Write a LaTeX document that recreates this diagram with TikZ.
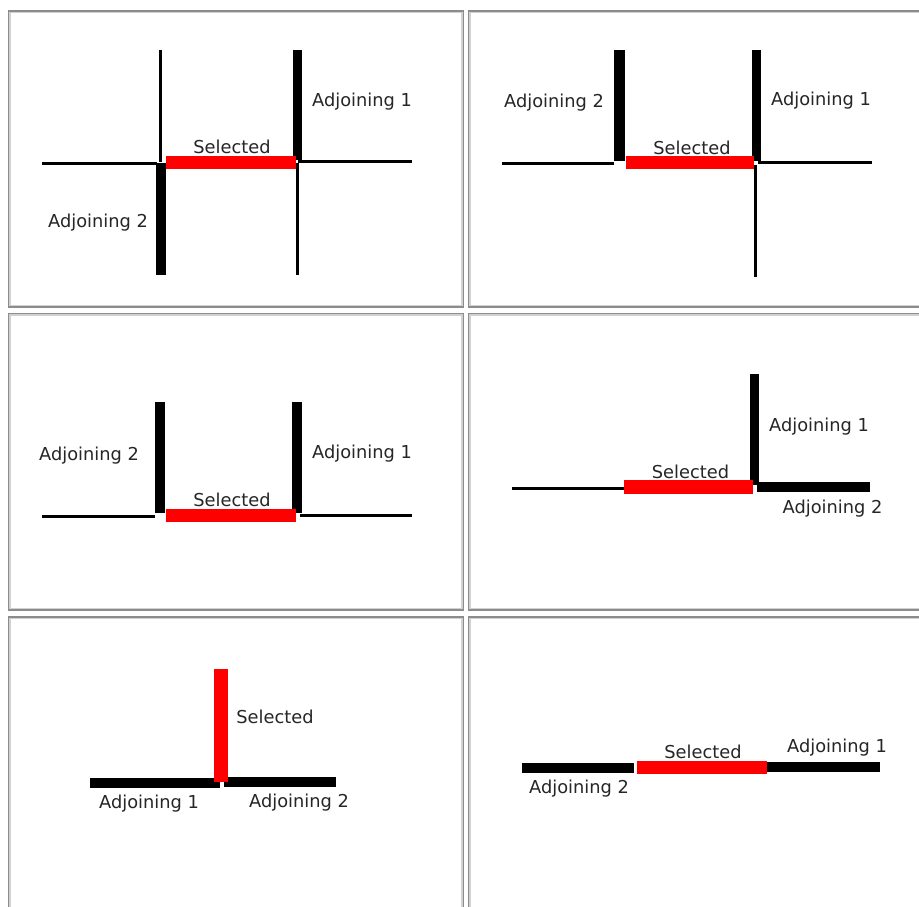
\documentclass[tikz,border=0pt]{standalone}
\usepackage{fontspec}
\setmainfont{DejaVu Sans}
\begin{document}
\begin{tikzpicture}[x=1pt,y=-1pt,
  lbl/.style={inner sep=0pt,anchor=center,text=black!85,font=\fontsize{17.8}{20}\selectfont},
  wallthin/.style={draw=black,line width=3pt},
  wallthick/.style={fill=black},
  selwall/.style={fill=red},
  frameout/.style={draw=black!45,line width=1.6pt},
  framein/.style={draw=black!18,line width=1.4pt}]
\useasboundingbox (0,0) rectangle (919,907);
\fill[white] (0,0) rectangle (919,907);
\clip (0,0) rectangle (919,907);

% cell frames (double grey rule)
\foreach \xa/\ya/\xb/\yb in {8.5/11/463.5/307, 468.5/11/930/307,
                             8.5/313.5/463.5/610, 468.5/313.5/930/610,
                             8.5/617/463.5/920, 468.5/617/930/920}{
  \draw[frameout] (\xa,\ya) rectangle (\xb,\yb);
  \draw[framein] (\xa+1.6,\ya+1.6) rectangle (\xb-1.6,\yb-1.6);
}

% ---- cell 1: crossing walls on both ends
\draw[wallthin] (42,163) -- (157,163);
\draw[wallthin] (160,50) -- (160,162);
\fill[wallthick] (156,163) rectangle (166,275);
\fill[wallthick] (293,50) rectangle (302,160);
\draw[wallthin] (298,161) -- (412,161);
\draw[wallthin] (297,163) -- (297,275);
\fill[selwall] (166,156) rectangle (296,169);
\node[lbl] (a1) at (362,102) {Adjoining 1};
\node[lbl] (s1) at (232,147) {Selected};
\node[lbl] (a2) at (98,223) {Adjoining 2};

% ---- cell 2: both adjoining walls above
\draw[wallthin] (502,163) -- (614,163);
\fill[wallthick] (614,50) rectangle (625,161);
\fill[wallthick] (752,50) rectangle (761,161);
\draw[wallthin] (758,162) -- (872,162);
\draw[wallthin] (755,165) -- (755,277);
\fill[selwall] (626,156) rectangle (754,169);
\node[lbl] (b2) at (554,103) {Adjoining 2};
\node[lbl] (b1) at (821,101) {Adjoining 1};
\node[lbl] (s2) at (692,147.5) {Selected};

% ---- cell 3: U-shaped arrangement
\draw[wallthin] (42,516) -- (155,516);
\fill[wallthick] (155,402) rectangle (165,513);
\fill[wallthick] (292,402) rectangle (302,513);
\draw[wallthin] (300,515) -- (412,515);
\fill[selwall] (166,509) rectangle (296,522);
\node[lbl] (c2) at (89,456) {Adjoining 2};
\node[lbl] (c1) at (362,454) {Adjoining 1};
\node[lbl] (s3) at (232,500) {Selected};

% ---- cell 4: corner at one end
\draw[wallthin] (512,488) -- (624,488);
\fill[wallthick] (750,374) rectangle (759,485);
\fill[wallthick] (757,482) rectangle (870,492);
\fill[selwall] (624,480) rectangle (753,494);
\node[lbl] (d1) at (819,426.5) {Adjoining 1};
\node[lbl] (s4) at (690.5,472) {Selected};
\node[lbl] (d2) at (832.5,509) {Adjoining 2};

% ---- cell 5: selected wall meets a straight run (T junction)
\fill[wallthick] (90,778) rectangle (220,788);
\fill[wallthick] (224,777) rectangle (336,787);
\fill[selwall] (214,669) rectangle (228,782);
\node[lbl] (s5) at (275,717) {Selected};
\node[lbl] (e1) at (149,804) {Adjoining 1};
\node[lbl] (e2) at (299,803) {Adjoining 2};

% ---- cell 6: collinear walls
\fill[wallthick] (522,763) rectangle (634,773);
\fill[wallthick] (767,762) rectangle (880,772);
\fill[selwall] (637,761) rectangle (767,774);
\node[lbl] (s6) at (703,752) {Selected};
\node[lbl] (f1) at (837,748) {Adjoining 1};
\node[lbl] (f2) at (579,789) {Adjoining 2};
\end{tikzpicture}
\end{document}
